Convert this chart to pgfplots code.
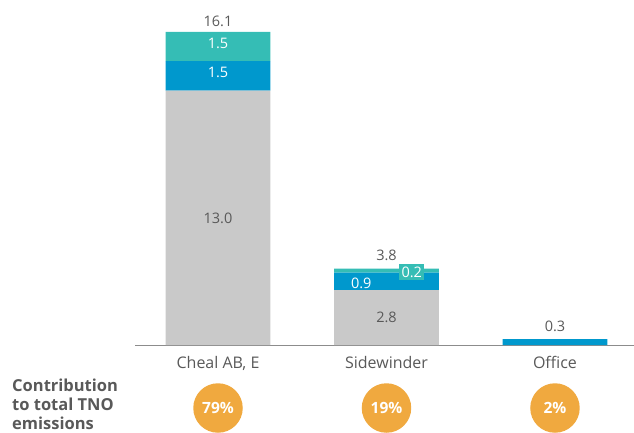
\documentclass[border=0pt]{standalone}
\usepackage{pgfplots}
\pgfplotsset{compat=1.18}
\usepackage{fontspec}
\setmainfont{Open Sans}
\definecolor{cgray}{HTML}{C9C9C9}
\definecolor{cblue}{HTML}{0098CD}
\definecolor{cteal}{HTML}{35BDB5}
\definecolor{corange}{HTML}{F0A93F}
\definecolor{ctext}{HTML}{595959}
\definecolor{caxis}{HTML}{8C8C8C}
\tikzset{vl/.style={font=\fontsize{14.5}{16}\selectfont, text=ctext},
  pc/.style={circle, fill=corange, minimum size=49.5pt, inner sep=0pt, text=white, font=\bfseries\fontsize{15.5}{17}\selectfont}}
\begin{document}
\begin{tikzpicture}
\path[use as bounding box] (0pt,0pt) rectangle (634pt,432pt);
\begin{axis}[
  at={(135pt,87pt)}, anchor=south west,
  scale only axis, width=499pt, height=345pt,
  ybar stacked, bar width=0.623,
  xmin=-0.4926, xmax=2.469, ymin=0, ymax=17.63,
  axis x line=bottom, axis y line=none,
  axis line style={caxis, line width=0.8pt, -},
  xtick={0,1,2}, xticklabels={{Cheal AB, E}, Sidewinder, Office},
  major tick length=0,
  xticklabel style={font=\fontsize{16}{18}\selectfont, text=ctext, yshift=-8pt},
  clip=false,
]
\addplot[fill=cgray, draw=none] coordinates {(0,13.0) (1,2.8) (2,0)};
\addplot[fill=cblue, draw=none] coordinates {(0,1.5) (1,0.9) (2,0.3)};
\addplot[fill=cteal, draw=none] coordinates {(0,1.5) (1,0.2) (2,0)};
\coordinate (a1) at (axis cs:0,16.55);
\coordinate (a2) at (axis cs:0,15.42);
\coordinate (a3) at (axis cs:0,13.95);
\coordinate (a4) at (axis cs:0,6.45);
\coordinate (b1) at (axis cs:1,4.57);
\coordinate (b2) at (axis cs:1,1.4);
\coordinate (b3) at (axis cs:0.85,3.17);
\coordinate (b4) at (axis cs:1.15,3.72);
\coordinate (c1) at (axis cs:2,0.95);
\coordinate (p0) at (axis cs:0,-3.22);
\coordinate (p1) at (axis cs:1,-3.22);
\coordinate (p2) at (axis cs:2,-3.22);
\end{axis}
\node[vl] at (a1) {16.1};
\node[vl, text=white] at (a2) {1.5};
\node[vl, text=white] at (a3) {1.5};
\node[vl] at (a4) {13.0};
\node[vl] at (b1) {3.8};
\node[vl] at (b2) {2.8};
\node[vl, text=white] at (b3) {0.9};
\node[vl, fill=cteal, text=white, inner xsep=2.5pt, inner ysep=2.5pt] at (b4) {0.2};
\node[vl] at (c1) {0.3};
\node[pc] at (p0) {79\%};
\node[pc] at (p1) {19\%};
\node[pc] at (p2) {2\%};
\node[anchor=north west, align=left, text=ctext, font=\bfseries\fontsize{16.5}{18.7}\selectfont, inner sep=0pt] at (12pt,53pt) {Contribution\\to total TNO\\emissions};
\end{tikzpicture}
\end{document}
